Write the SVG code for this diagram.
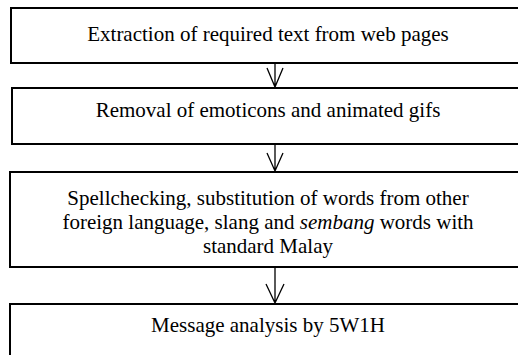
<svg xmlns="http://www.w3.org/2000/svg" width="518" height="355" viewBox="0 0 518 355">
<style>
.box{fill:#fff;stroke:#000;stroke-width:2}
.t{font-family:"Liberation Serif","Times New Roman",serif;font-size:21px;fill:#000;text-anchor:middle}
.c{fill:none;stroke:#000;stroke-width:1.3}
</style>
<rect width="518" height="355" fill="#fff"/>
<g id="n1"><rect class="box" x="11" y="8" width="520" height="55"/><text class="t" x="268" y="41">Extraction of required text from web pages</text></g>
<g id="n2"><rect class="box" x="12" y="88" width="520" height="56"/><text class="t" x="268" y="117">Removal of emoticons and animated gifs</text></g>
<g id="n3"><rect class="box" x="10" y="172" width="522" height="95"/><text class="t" x="268" y="205">Spellchecking, substitution of words from other</text><text class="t" x="268" y="229">foreign language, slang and <tspan font-style="italic">sembang</tspan> words with</text><text class="t" x="268" y="253">standard Malay</text></g>
<g id="n4"><rect class="box" x="10" y="304" width="522" height="60"/><text class="t" x="268" y="332">Message analysis by 5W1H</text></g>
<g id="connectors">
<path class="c" d="M275 63V87M267 68L275 87L283 68"/>
<path class="c" d="M275 144V171M267 153L275 171L283 153"/>
<path class="c" d="M275 267V303M266 284L275 303L284 284"/>
</g>
</svg>
